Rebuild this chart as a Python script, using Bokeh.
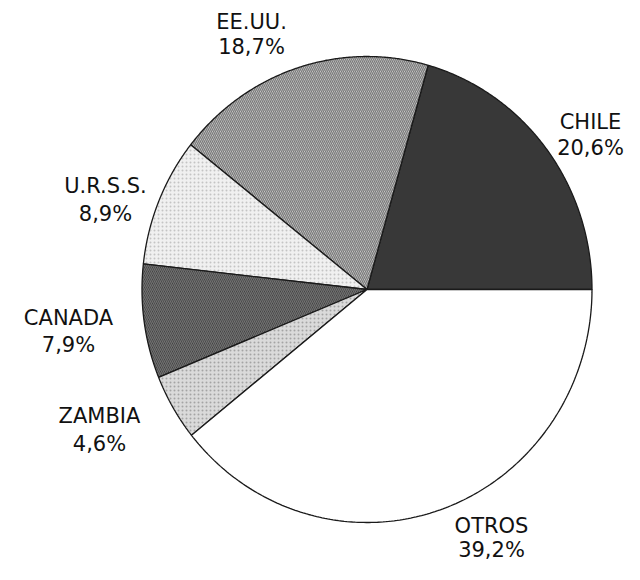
import numpy as np
from bokeh.plotting import figure
from bokeh.models import Range1d, ColumnDataSource
from bokeh.core.properties import value
from bokeh.embed import file_html
from bokeh.resources import INLINE

# ---- data ----
countries = ["CHILE", "EE.UU.", "U.R.S.S.", "CANADA", "ZAMBIA", "OTROS"]
shares = [20.6, 18.7, 8.9, 7.9, 4.6, 39.2]
pct_labels = ["20,6%", "18,7%", "8,9%", "7,9%", "4,6%", "39,2%"]

# ---- styles ----
fills = ["#383838", "#d6d6d6", "#f0f0f0", "#353535", "#dadada", "#ffffff"]
hatches = [" ", "\\", ".", "\\", ".", " "]
hatch_colors = ["#2a2a2a", "#7a7a7a", "#c4c4c4", "#727272", "#a4a4a4", "#ffffff"]
hatch_scales = [6, 4, 4, 4, 4, 6]

# layout (data space == picture pixels, y downward)
CX, CY = 366.5, 289.0
RX, RY = 225.0, 233.0
label_pos = [(590, 121, 147), (251, 21, 46), (105, 185, 213),
             (68, 317, 344), (99, 415, 443), (491, 525, 549)]

W, H = 624, 564
p = figure(width=W, height=H, output_backend="svg", toolbar_location=None,
           x_range=Range1d(0, W), y_range=Range1d(H, 0),
           min_border=0, outline_line_color=None)
p.axis.visible = False
p.grid.visible = False
p.background_fill_color = "white"

total = sum(shares)
ends = np.cumsum(shares) / total * 2 * np.pi
starts = np.concatenate([[0.0], ends[:-1]])
xs, ys = [], []
for a0, a1 in zip(starts, ends):
    t = np.linspace(a0, a1, 200)
    xs.append(np.concatenate([[CX], CX + RX * np.cos(t), [CX]]).tolist())
    ys.append(np.concatenate([[CY], CY - RY * np.sin(t), [CY]]).tolist())

src = ColumnDataSource(dict(xs=xs, ys=ys, fill=fills, hatch=hatches,
                            hcol=hatch_colors, hscale=hatch_scales))
p.patches("xs", "ys", source=src, fill_color="fill", line_color="#1a1a1a",
          line_width=1.3, hatch_pattern="hatch", hatch_color="hcol",
          hatch_scale="hscale", hatch_weight=1.3)

tx, ty, tt = [], [], []
for (lx, ly1, ly2), name, pct in zip(label_pos, countries, pct_labels):
    tx += [lx, lx]
    ty += [ly1, ly2]
    tt += [name, pct]
p.text(x=tx, y=ty, text=tt, text_align="center", text_baseline="middle",
       text_font=value("DejaVu Sans"), text_font_size="21px",
       text_color="#111111")

open("out.html", "w").write(file_html(p, INLINE))
